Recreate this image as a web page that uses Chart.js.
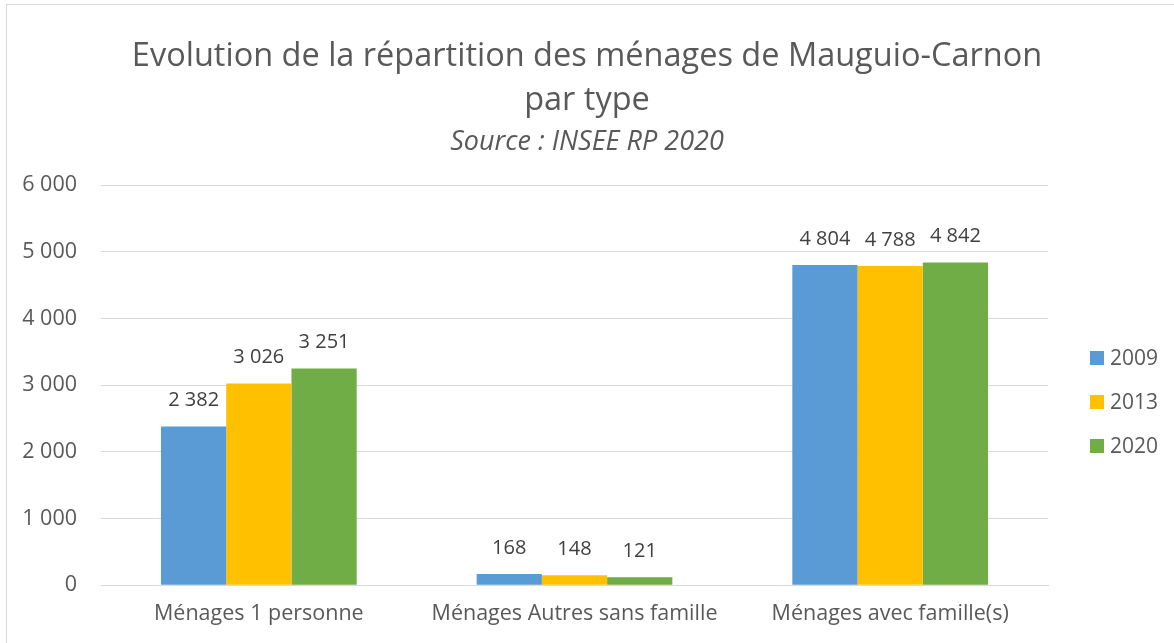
<!DOCTYPE html>
<html>
<head>
<meta charset="utf-8">
<script src="https://cdn.jsdelivr.net/npm/chart.js@4.4.1/dist/chart.umd.min.js"></script>
<style>
  html, body { margin: 0; padding: 0; background: #fff; overflow: hidden; }
  #frame {
    position: absolute; left: 6px; top: 4px; width: 1200px; height: 700px;
    border: 1px solid #d9d9d9; box-sizing: border-box;
  }
  #wrap { position: absolute; left: 0; top: 0; width: 1174px; height: 643px; }
</style>
</head>
<body>
<div id="frame"></div>
<div id="wrap"><canvas id="chart"></canvas></div>
<script>
const categories = ['Ménages 1 personne', 'Ménages Autres sans famille', 'Ménages avec famille(s)']
const years = ['2009', '2013', '2020']
const values2009 = [2382, 168, 4804]
const values2013 = [3026, 148, 4788]
const values2020 = [3251, 121, 4842]
const yTicks = [0, 1000, 2000, 3000, 4000, 5000, 6000]

const colors = ['#5B9BD5', '#FFC000', '#70AD47']
const font = '"Open Sans", sans-serif'

function fmt(v) {
    return String(v).replace(/\B(?=(\d{3})+(?!\d))/g, ' ')
}

// value labels above each bar
const barLabels = {
    id: 'barLabels',
    afterDatasetsDraw(chart) {
        const ctx = chart.ctx
        ctx.save()
        ctx.font = '20px ' + font
        ctx.fillStyle = '#404040'
        ctx.textAlign = 'center'
        ctx.textBaseline = 'middle'
        chart.data.datasets.forEach((ds, i) => {
            chart.getDatasetMeta(i).data.forEach((bar, j) => {
                ctx.fillText(fmt(ds.data[j]), bar.x, bar.y - 26)
            })
        })
        ctx.restore()
    }
}

// legend on the right, square boxes
const sideLegend = {
    id: 'sideLegend',
    afterDraw(chart) {
        const ctx = chart.ctx
        const x = chart.chartArea.right + 42
        const rowGap = 44
        const n = chart.data.datasets.length
        const y0 = 402 - rowGap * (n - 1) / 2
        ctx.save()
        ctx.font = '21px ' + font
        ctx.textBaseline = 'middle'
        chart.data.datasets.forEach((ds, i) => {
            const y = y0 + i * rowGap
            ctx.fillStyle = ds.backgroundColor
            ctx.fillRect(x, y - 7, 14, 14)
            ctx.fillStyle = '#595959'
            ctx.fillText(ds.label, x + 20, y + 1)
        })
        ctx.restore()
    }
}

let chart = null

function initChart() {
    const ctx = document.getElementById('chart').getContext('2d')
    chart = new Chart(ctx, {
        type: 'bar',
        data: {
            labels: categories,
            datasets: [
                { label: years[0], data: values2009, backgroundColor: colors[0] },
                { label: years[1], data: values2013, backgroundColor: colors[1] },
                { label: years[2], data: values2020, backgroundColor: colors[2] }
            ]
        },
        options: {
            responsive: true,
            maintainAspectRatio: false,
            animation: false,
            datasets: {
                bar: { categoryPercentage: 0.62, barPercentage: 1.0 }
            },
            layout: {
                padding: { top: 0, left: 0, right: 0, bottom: 0 }
            },
            plugins: {
                legend: { display: false },
                tooltip: { enabled: false },
                title: {
                    display: true,
                    text: ['Evolution de la répartition des ménages de Mauguio-Carnon', 'par type'],
                    color: '#595959',
                    font: { family: font, size: 32.5, weight: 400, lineHeight: 1.35 },
                    padding: { top: 35, bottom: 4 }
                },
                subtitle: {
                    display: true,
                    text: 'Source : INSEE RP 2020',
                    color: '#595959',
                    font: { family: font, size: 27, style: 'italic', lineHeight: 1.15 },
                    padding: { top: 0, bottom: 27.5 }
                }
            },
            scales: {
                x: {
                    grid: { display: false, drawTicks: false },
                    border: { display: true, color: '#d9d9d9' },
                    ticks: { color: '#595959', font: { family: font, size: 21.5 }, padding: 16, maxRotation: 0 }
                },
                y: {
                    min: 0,
                    max: 6000,
                    afterBuildTicks(scale) {
                        scale.ticks = yTicks.map(v => ({ value: v }))
                    },
                    afterFit(scale) {
                        scale.width = 101
                    },
                    grid: { color: '#d9d9d9', drawTicks: false },
                    border: { display: false },
                    ticks: {
                        color: '#595959',
                        font: { family: font, size: 21.5 },
                        padding: 24,
                        callback: v => fmt(v)
                    }
                },
                // empty strip on the right that holds the legend
                legendSpace: {
                    type: 'linear',
                    position: 'right',
                    grid: { display: false, drawTicks: false },
                    border: { display: false },
                    ticks: { display: false },
                    afterFit(scale) {
                        scale.width = 126
                    }
                }
            }
        },
        plugins: [barLabels, sideLegend]
    })
}

initChart()
</script>
</body>
</html>
